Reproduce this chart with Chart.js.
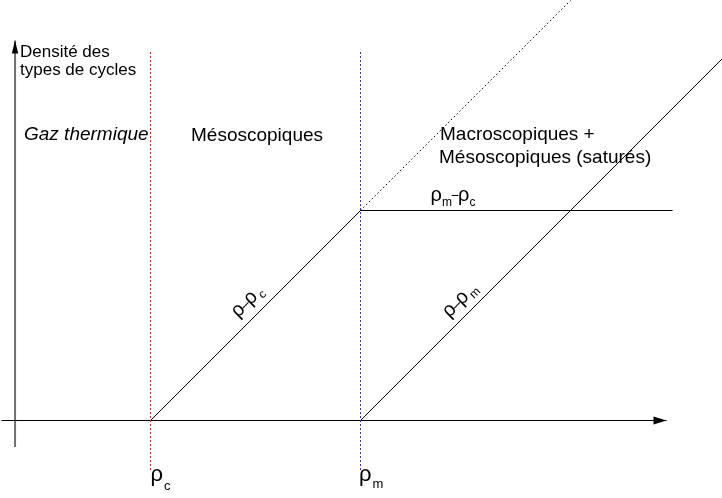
<!DOCTYPE html>
<html><head><meta charset="utf-8">
<script src="https://cdn.jsdelivr.net/npm/chart.js@4"></script>
<style>html,body{margin:0;padding:0;background:#fff;}canvas{display:block}</style>
</head><body>
<canvas id="c" width="722" height="498"></canvas>
<script>
// critical densities on the horizontal axis (data units)
const rhoC = 1;
const rhoM = 2;
// axis extents
const horizontalAxis = [[0.29, 0], [3.457, 0]];
const verticalAxis = [[0.355, -0.126], [0.355, 1.81]];
// vertical markers at the critical densities
const rhoCMarker = [[1, -0.236], [1, 1.76]];
const rhoMMarker = [[2, -0.236], [2, 1.765]];
// densities of the cycle types
const mesoGrowth = [[1, 0], [2, 1]];        // ρ−ρc
const mesoUnsaturated = [[2, 1], [3, 2]];   // dotted continuation
const mesoSaturated = [[2, 1], [3.486, 1]]; // ρm−ρc
const macroGrowth = [[2, 0], [4, 2]];       // ρ−ρm
// texts
const axisTitle = ['Densité des', 'types de cycles'];
const regionGas = 'Gaz thermique';
const regionMeso = 'Mésoscopiques';
const regionMacro = ['Macroscopiques +', 'Mésoscopiques (saturés)'];

// scale limits (pixel mapping of the drawing)
const X_MIN = 59.5 / 210, X_MAX = (722 + 59.5) / 210;
const Y_MAX = 420.5 / 210, Y_MIN = (420.5 - 498) / 210;

const FONT = '"Liberation Sans", Arial, Helvetica, sans-serif';
const pts = a => a.map(([x, y]) => ({x, y}));
function ds(data, color, width, dash) {
  return {data: pts(data), showLine: true, borderColor: color, borderWidth: width,
    borderDash: dash || [], pointRadius: 0, fill: false, tension: 0};
}

function seq(ctx, parts, x, y, draw) {
  let cx = x;
  for (const p of parts) {
    ctx.font = (p.italic ? 'italic ' : '') + p.size + 'px ' + FONT;
    cx += p.dx || 0;
    if (draw) ctx.fillText(p.t, cx, y + (p.dy || 0));
    cx += ctx.measureText(p.t).width;
  }
  return cx - x;
}
function arrow(ctx, tx, ty, dx, dy, len, half) {
  const bx = tx - dx * len, by = ty - dy * len, nx = -dy, ny = dx;
  ctx.beginPath();
  ctx.moveTo(tx, ty);
  ctx.lineTo(bx + nx * half, by + ny * half);
  ctx.lineTo(bx - nx * half, by - ny * half);
  ctx.closePath();
  ctx.fill();
}

const annot = {
  id: 'annot',
  beforeDraw(chart) {
    const c = chart.ctx; c.save(); c.fillStyle = '#fff';
    c.fillRect(0, 0, chart.width, chart.height); c.restore();
  },
  afterDatasetsDraw(chart) {
    const ctx = chart.ctx, xs = chart.scales.x, ys = chart.scales.y;
    const X = v => xs.getPixelForValue(v), Y = v => ys.getPixelForValue(v);
    ctx.save();
    ctx.fillStyle = '#000';
    ctx.textBaseline = 'alphabetic';
    // arrowheads
    const hx = horizontalAxis[1];
    arrow(ctx, X(hx[0]) , Y(hx[1]), 1, 0, 13, 4);
    const vy = verticalAxis[1];
    arrow(ctx, X(vy[0]), Y(vy[1]), 0, -1, 13, 3.2);
    // axis title
    ctx.font = '17px ' + FONT;
    ctx.fillText(axisTitle[0], 20, 57);
    ctx.fillText(axisTitle[1], 20, 74.5);
    // region labels
    ctx.font = 'italic 19px ' + FONT;
    ctx.fillText(regionGas, 24, 140);
    ctx.font = '19px ' + FONT;
    ctx.fillText(regionMeso, 191, 141);
    ctx.fillText(regionMacro[0], 440, 139.5);
    ctx.fillText(regionMacro[1], 439, 162.5);
    // critical density labels under the axis
    seq(ctx, [{t: 'ρ', size: 22}, {t: 'c', size: 13, dy: 9, dx: 1}], X(rhoC), 481, true);
    seq(ctx, [{t: 'ρ', size: 22}, {t: 'm', size: 13, dy: 7, dx: 1}], X(rhoM) - 1.5, 481, true);
    // saturation label
    seq(ctx, [{t: 'ρ', size: 20}, {t: 'm', size: 12, dy: 5, dx: 0},
              {t: '−', size: 14, dx: -1, dy: -1}, {t: 'ρ', size: 20, dx: -1},
              {t: 'c', size: 12, dy: 5, dx: 0}], 430.5, 201, true);
    // labels along the growth lines
    const diag = (parts, line, dataX, off) => {
      const [p0, p1] = line;
      const t = (dataX - p0[0]) / (p1[0] - p0[0]);
      const dy = p0[1] + t * (p1[1] - p0[1]);
      const ang = Math.atan2(Y(p1[1]) - Y(p0[1]), X(p1[0]) - X(p0[0]));
      ctx.save();
      ctx.translate(X(dataX), Y(dy));
      ctx.rotate(ang);
      const w = seq(ctx, parts, 0, 0, false);
      seq(ctx, parts, -w / 2, -off, true);
      ctx.restore();
    };
    diag([{t: 'ρ', size: 20}, {t: '–', size: 15, dx: -1}, {t: 'ρ', size: 20, dx: -1},
          {t: 'c', size: 12, dy: 4, dx: 2}], mesoGrowth, 1.514, 10.5);
    diag([{t: 'ρ', size: 20}, {t: '–', size: 15, dx: -1}, {t: 'ρ', size: 20, dx: -1},
          {t: 'm', size: 12, dy: 4, dx: 2}], macroGrowth, 2.524, 9.5);
    ctx.restore();
  }
};

new Chart(document.getElementById('c'), {
  type: 'scatter',
  data: {datasets: [
    ds(rhoCMarker, '#ff0000', 1, [2, 2]),
    ds(rhoMMarker, '#2a2ad8', 1, [2, 2]),
    ds(horizontalAxis, '#000', 1.2),
    ds(verticalAxis, '#707070', 2),
    ds(mesoGrowth, '#000', 1),
    ds(mesoUnsaturated, '#000', 1, [1.5, 2.5]),
    ds(mesoSaturated, '#000', 1),
    ds(macroGrowth, '#000', 1)
  ]},
  options: {
    responsive: false, animation: false, events: [],
    layout: {padding: 0},
    plugins: {legend: {display: false}, tooltip: {enabled: false}},
    scales: {
      x: {type: 'linear', min: X_MIN, max: X_MAX, display: false},
      y: {type: 'linear', min: Y_MIN, max: Y_MAX, display: false}
    }
  },
  plugins: [annot]
});
</script>
</body></html>
